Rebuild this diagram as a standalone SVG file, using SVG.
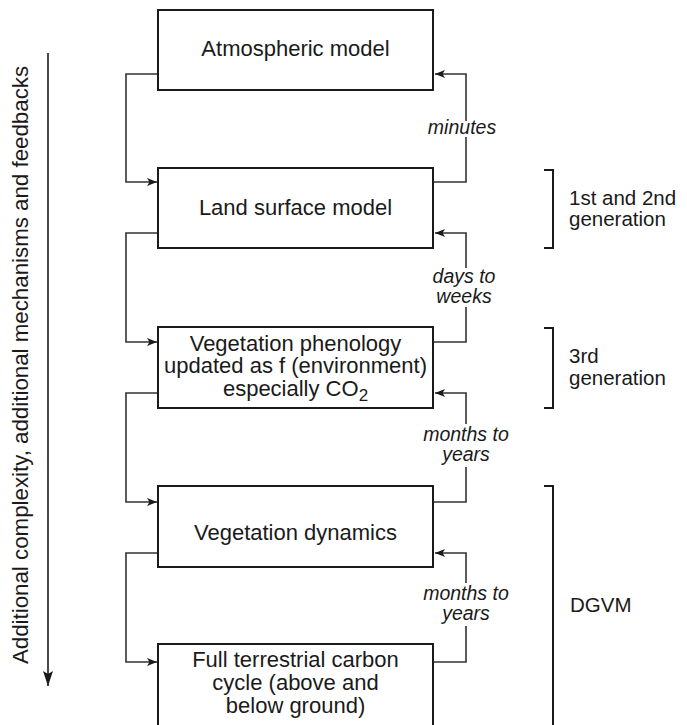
<svg xmlns="http://www.w3.org/2000/svg" width="687" height="725" viewBox="0 0 687 725">
  <defs>
    <marker id="arrow" viewBox="0 0 10 8" refX="10" refY="4" markerWidth="10" markerHeight="8" markerUnits="userSpaceOnUse" orient="auto">
      <path d="M0,0 L10,4 L0,8 L2.5,4 Z" fill="#1a1a1a"/>
    </marker>
    <marker id="bigArrow" viewBox="0 0 10 15" refX="5" refY="15" markerWidth="10" markerHeight="15" markerUnits="userSpaceOnUse" orient="0">
      <path d="M0,0 L5,3 L10,0 L5,15 Z" fill="#1a1a1a"/>
    </marker>
    <style>
      .box { fill: #ffffff; stroke: #1a1a1a; stroke-width: 2; }
      .conn { fill: none; stroke: #333333; stroke-width: 1.6; }
      .bracket { fill: none; stroke: #1a1a1a; stroke-width: 2; }
      .label { font-family: "Liberation Sans", Arial, sans-serif; font-size: 22px; fill: #1a1a1a; text-anchor: middle; }
      .time { font-family: "Liberation Sans", Arial, sans-serif; font-size: 19.5px; font-style: italic; fill: #1a1a1a; text-anchor: middle; }
      .gen { font-family: "Liberation Sans", Arial, sans-serif; font-size: 20.5px; fill: #1a1a1a; }
      .axis { font-family: "Liberation Sans", Arial, sans-serif; font-size: 22.3px; fill: #1a1a1a; text-anchor: middle; }
    </style>
  </defs>

  <rect width="687" height="725" fill="#ffffff"/>

  <!-- Complexity axis -->
  <g id="complexity-axis">
    <line x1="48" y1="53" x2="48" y2="686" stroke="#1a1a1a" stroke-width="1.6" marker-end="url(#bigArrow)"/>
    <text class="axis" transform="translate(28,365) rotate(-90)">Additional complexity, additional mechanisms and feedbacks</text>
  </g>

  <!-- Connectors -->
  <g id="connectors">
    <!-- downward coupling on the left -->
    <path class="conn" d="M158,74 H126 V182 H157" marker-end="url(#arrow)"/>
    <path class="conn" d="M158,233 H126 V342 H157" marker-end="url(#arrow)"/>
    <path class="conn" d="M158,393 H126 V502 H157" marker-end="url(#arrow)"/>
    <path class="conn" d="M158,553 H126 V662 H157" marker-end="url(#arrow)"/>
    <!-- feedbacks on the right -->
    <path class="conn" d="M433,182 H466 V137"/>
    <path class="conn" d="M466,121 V74 H435" marker-end="url(#arrow)"/>
    <path class="conn" d="M433,342 H466 V307"/>
    <path class="conn" d="M466,268 V233 H435" marker-end="url(#arrow)"/>
    <path class="conn" d="M433,502 H466 V467"/>
    <path class="conn" d="M466,424 V393 H435" marker-end="url(#arrow)"/>
    <path class="conn" d="M433,662 H466 V626"/>
    <path class="conn" d="M466,583 V553 H435" marker-end="url(#arrow)"/>
    <!-- time-scale labels -->
    <text class="time" x="462" y="134">minutes</text>
    <text class="time" x="464" y="283">days to</text>
    <text class="time" x="464" y="303">weeks</text>
    <text class="time" x="466" y="441">months to</text>
    <text class="time" x="466" y="461">years</text>
    <text class="time" x="466" y="600">months to</text>
    <text class="time" x="466" y="620">years</text>
  </g>

  <!-- Model components -->
  <g id="atmospheric-model">
    <rect class="box" x="158" y="10" width="275" height="80"/>
    <text class="label" x="295.5" y="56">Atmospheric model</text>
  </g>
  <g id="land-surface-model">
    <rect class="box" x="158" y="168" width="275" height="80"/>
    <text class="label" x="295.5" y="215">Land surface model</text>
  </g>
  <g id="vegetation-phenology">
    <rect class="box" x="158" y="327" width="275" height="81"/>
    <text class="label" x="295.5" y="350.5">Vegetation phenology</text>
    <text class="label" x="295.5" y="373">updated as f (environment)</text>
    <text class="label" x="295.5" y="396">especially CO<tspan font-size="17px" dy="5">2</tspan></text>
  </g>
  <g id="vegetation-dynamics">
    <rect class="box" x="158" y="486" width="275" height="81"/>
    <text class="label" x="295.5" y="540">Vegetation dynamics</text>
  </g>
  <g id="carbon-cycle">
    <rect class="box" x="158" y="644" width="275" height="100"/>
    <text class="label" x="295.5" y="667">Full terrestrial carbon</text>
    <text class="label" x="295.5" y="690">cycle (above and</text>
    <text class="label" x="295.5" y="713">below ground)</text>
  </g>

  <!-- Model generations -->
  <g id="generation-1-2">
    <path class="bracket" d="M544,170 H553 V248 H544"/>
    <text class="gen" x="569" y="205">1st and 2nd</text>
    <text class="gen" x="569" y="226">generation</text>
  </g>
  <g id="generation-3">
    <path class="bracket" d="M544,328 H553 V408 H544"/>
    <text class="gen" x="569" y="363">3rd</text>
    <text class="gen" x="569" y="385">generation</text>
  </g>
  <g id="dgvm">
    <path class="bracket" d="M544,486 H553 V740"/>
    <text class="gen" x="570" y="612">DGVM</text>
  </g>
</svg>
